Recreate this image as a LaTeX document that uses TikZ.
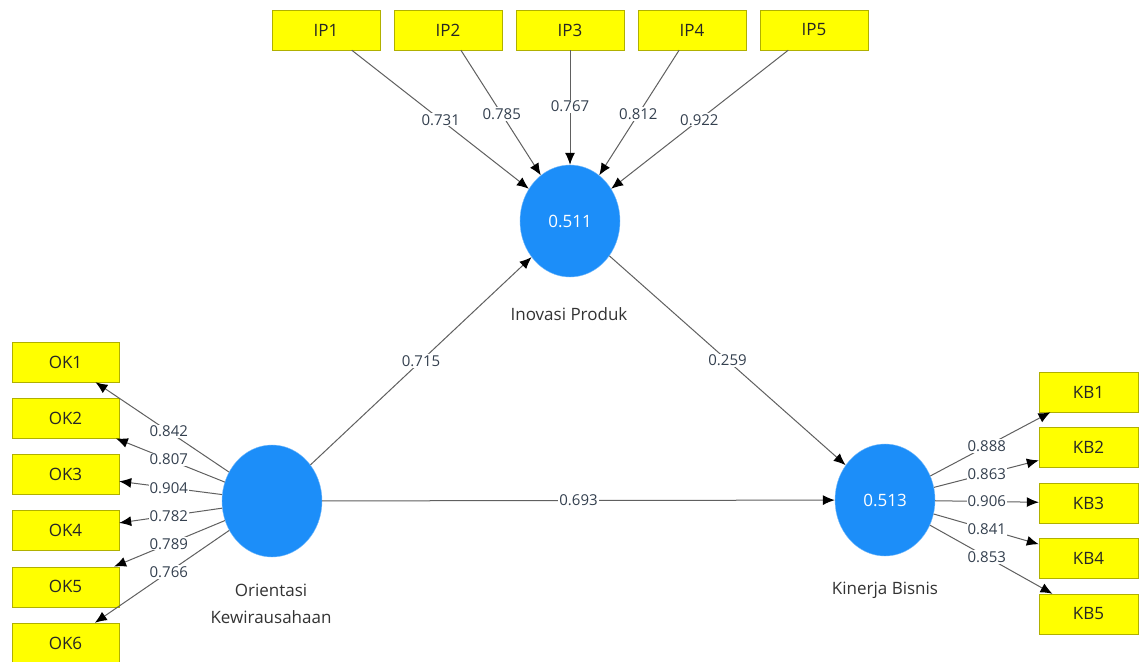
\documentclass[tikz,border=0pt]{standalone}
\usepackage{fontspec}
\setmainfont{Open Sans}
\usetikzlibrary{arrows.meta,calc,shapes.geometric}
\definecolor{boxyellow}{HTML}{FFFF00}
\definecolor{boxline}{HTML}{B0B000}
\definecolor{lvblue}{HTML}{1C8EF9}
\definecolor{lineg}{HTML}{606060}
\definecolor{lbltext}{HTML}{34404F}
\begin{document}
\begin{tikzpicture}[x=1pt,y=-1pt,
 ind/.style={draw=boxline, fill=boxyellow, minimum width=108pt, minimum height=40pt, inner sep=0pt, font=\fontsize{17}{19}\selectfont, text=black!85},
 lv/.style={ellipse, draw=lvblue!60, fill=lvblue, minimum width=100pt, minimum height=112pt, inner sep=0pt, text=white, font=\fontsize{17}{19}\selectfont},
 conn/.style={draw=lineg, line width=1pt, -{Latex[length=12pt,width=10pt,color=black]}},
 coef/.style={fill=white, inner sep=1pt, text=lbltext, font=\fontsize{15}{17}\selectfont},
 lvname/.style={text=black!80, font=\fontsize{17}{27}\selectfont, align=center}
]
\useasboundingbox[fill=white] (0,0) rectangle (1139,661);
% latent variables
\node[lv] (ip) at (570,221) {0.511};
\node[lv] (ok) at (272,501) {};
\node[lv] (kb) at (885,500) {0.513};
\node[lvname] (ipn) at (569,314) {Inovasi Produk};
\node[lvname] (okn) at (271,604) {Orientasi\\Kewirausahaan};
\node[lvname] (kbn) at (885,590) {Kinerja Bisnis};
% indicators IP
\node[ind] (ip1) at (326,30) {IP1};
\node[ind] (ip2) at (448,30) {IP2};
\node[ind] (ip3) at (570,30) {IP3};
\node[ind] (ip4) at (692,30) {IP4};
\node[ind] (ip5) at (814,30) {IP5};
% indicators OK
\node[ind, minimum width=107pt] (ok1) at (65.5,362) {OK1};
\node[ind, minimum width=107pt] (ok2) at (65.5,418.2) {OK2};
\node[ind, minimum width=107pt] (ok3) at (65.5,474.4) {OK3};
\node[ind, minimum width=107pt] (ok4) at (65.5,530.6) {OK4};
\node[ind, minimum width=107pt] (ok5) at (65.5,586.8) {OK5};
\node[ind, minimum width=107pt] (ok6) at (65.5,643) {OK6};
% indicators KB
\node[ind, minimum width=99pt] (kb1) at (1088.5,392) {KB1};
\node[ind, minimum width=99pt] (kb2) at (1088.5,447.5) {KB2};
\node[ind, minimum width=99pt] (kb3) at (1088.5,503) {KB3};
\node[ind, minimum width=99pt] (kb4) at (1088.5,558.5) {KB4};
\node[ind, minimum width=99pt] (kb5) at (1088.5,614) {KB5};
% connectors
\foreach \i in {1,...,5} {\draw[conn] (ip\i) -- (ip);}
\foreach \i in {1,...,6} {\draw[conn] (ok) -- (ok\i);}
\foreach \i in {1,...,5} {\draw[conn] (kb) -- (kb\i);}
\draw[conn] (ok) -- (ip);
\draw[conn] (ip) -- (kb);
\draw[conn] (ok) -- (kb);
% coefficient labels
\node[coef] (c1) at ($(ip1)!0.47!(ip)$) {0.731};
\node[coef] (c2) at ($(ip2)!0.44!(ip)$) {0.785};
\node[coef] (c3) at ($(ip3)!0.40!(ip)$) {0.767};
\node[coef] (c4) at ($(ip4)!0.44!(ip)$) {0.812};
\node[coef] (c5) at ($(ip5)!0.47!(ip)$) {0.922};
\node[coef] (c6) at ($(ok)!0.5!(ok1)$) {0.842};
\node[coef] (c7) at ($(ok)!0.5!(ok2)$) {0.807};
\node[coef] (c8) at ($(ok)!0.5!(ok3)$) {0.904};
\node[coef] (c9) at ($(ok)!0.5!(ok4)$) {0.782};
\node[coef] (c10) at ($(ok)!0.5!(ok5)$) {0.789};
\node[coef] (c11) at ($(ok)!0.5!(ok6)$) {0.766};
\node[coef] (c12) at ($(kb)!0.5!(kb1)$) {0.888};
\node[coef] (c13) at ($(kb)!0.5!(kb2)$) {0.863};
\node[coef] (c14) at ($(kb)!0.5!(kb3)$) {0.906};
\node[coef] (c15) at ($(kb)!0.5!(kb4)$) {0.841};
\node[coef] (c16) at ($(kb)!0.5!(kb5)$) {0.853};
\node[coef] (c17) at ($(ok)!0.5!(ip)$) {0.715};
\node[coef] (c18) at ($(ip)!0.5!(kb)$) {0.259};
\node[coef] (c19) at ($(ok)!0.5!(kb)$) {0.693};
\end{tikzpicture}
\end{document}
